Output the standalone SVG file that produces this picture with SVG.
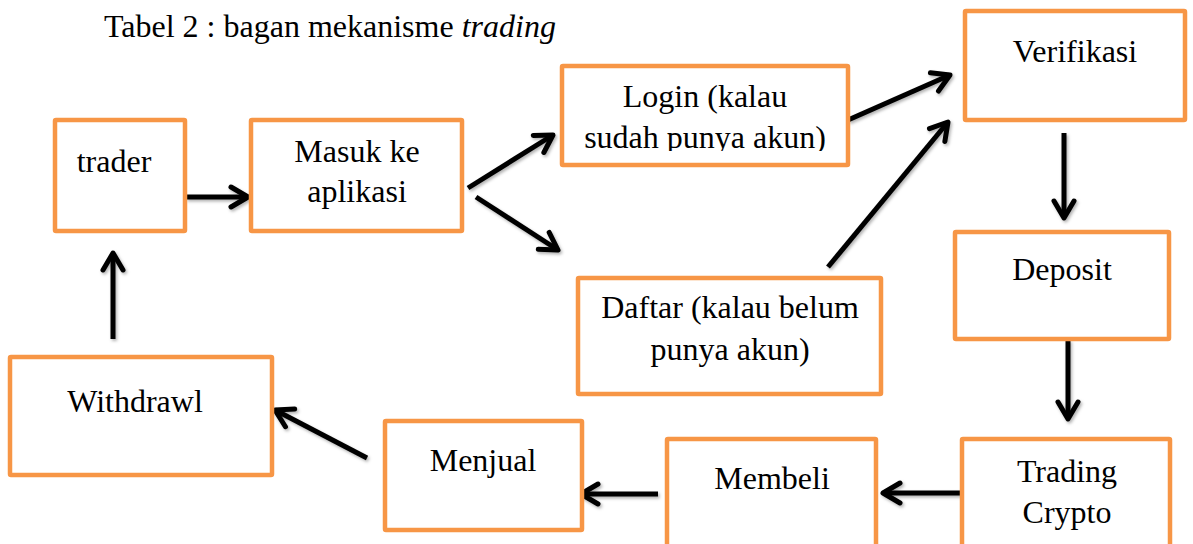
<svg xmlns="http://www.w3.org/2000/svg" width="1193" height="544" viewBox="0 0 1193 544">
<style>
.box{fill:#fff;stroke:#F79646;stroke-width:4.5}
.t{font-family:"Liberation Serif","Times New Roman",serif;font-size:32px;fill:#000;text-anchor:middle}
.title{font-family:"Liberation Serif","Times New Roman",serif;font-size:32px;fill:#000}
.c{stroke:#000;stroke-width:5;fill:none;marker-end:url(#ah)}
</style>
<defs>
<marker id="ah" markerUnits="userSpaceOnUse" viewBox="-25 -15 30 30" markerWidth="30" markerHeight="30" refX="0" refY="0" orient="auto" overflow="visible">
<path d="M-17,-10 L0,0 L-17,10" fill="none" stroke="#000" stroke-width="5" stroke-linecap="round" stroke-linejoin="round"/>
</marker>
<filter id="sh" x="-20%" y="-20%" width="140%" height="140%">
<feDropShadow dx="1.5" dy="2" stdDeviation="1.5" flood-color="#000" flood-opacity="0.3"/>
</filter>
<clipPath id="loginclip"><rect x="562" y="66" width="286" height="85"/></clipPath>
</defs>
<rect width="1193" height="544" fill="#fff"/>
<text class="title" x="104" y="37">Tabel 2 : bagan mekanisme <tspan font-style="italic">trading</tspan></text>

<g id="connectors" filter="url(#sh)">
<line class="c" x1="186" y1="197" x2="248" y2="197"/>
<line class="c" x1="468" y1="188" x2="553" y2="135"/>
<line class="c" x1="476" y1="197" x2="558" y2="250"/>
<line class="c" x1="848" y1="120" x2="950" y2="75"/>
<line class="c" x1="828" y1="267" x2="948" y2="122"/>
<line class="c" x1="1064" y1="133" x2="1064" y2="218"/>
<line class="c" x1="1068" y1="340" x2="1068" y2="419"/>
<line class="c" x1="962" y1="493" x2="883" y2="493"/>
<line class="c" x1="658" y1="494" x2="581" y2="494"/>
<line class="c" x1="367" y1="458" x2="275" y2="410"/>
<line class="c" x1="113" y1="339" x2="113" y2="253"/>
</g>

<g id="trader"><rect class="box" x="55" y="120" width="130" height="111" rx="1"/><text class="t" x="114" y="172">trader</text></g>
<g id="masuk"><rect class="box" x="251" y="120" width="211" height="111" rx="1"/><text class="t" x="357" y="162">Masuk ke</text><text class="t" x="357" y="202">aplikasi</text></g>
<g id="login"><rect class="box" x="562" y="66" width="286" height="99" rx="1"/><text class="t" x="705" y="107">Login (kalau</text><text class="t" x="705" y="148" clip-path="url(#loginclip)">sudah punya akun)</text></g>
<g id="daftar"><rect class="box" x="578" y="278" width="303" height="116" rx="1"/><text class="t" x="730" y="318">Daftar (kalau belum</text><text class="t" x="730" y="360">punya akun)</text></g>
<g id="verifikasi"><rect class="box" x="965" y="11" width="220" height="109" rx="1"/><text class="t" x="1075" y="62">Verifikasi</text></g>
<g id="deposit"><rect class="box" x="955" y="232" width="214" height="107" rx="1"/><text class="t" x="1062" y="280">Deposit</text></g>
<g id="trading"><rect class="box" x="962" y="439" width="208" height="120" rx="1"/><text class="t" x="1067" y="482">Trading</text><text class="t" x="1067" y="523">Crypto</text></g>
<g id="membeli"><rect class="box" x="667" y="439" width="209" height="120" rx="1"/><text class="t" x="772" y="489">Membeli</text></g>
<g id="menjual"><rect class="box" x="385" y="421" width="197" height="109" rx="1"/><text class="t" x="483" y="471">Menjual</text></g>
<g id="withdrawl"><rect class="box" x="10" y="357" width="262" height="118" rx="1"/><text class="t" x="135" y="412">Withdrawl</text></g>
</svg>
